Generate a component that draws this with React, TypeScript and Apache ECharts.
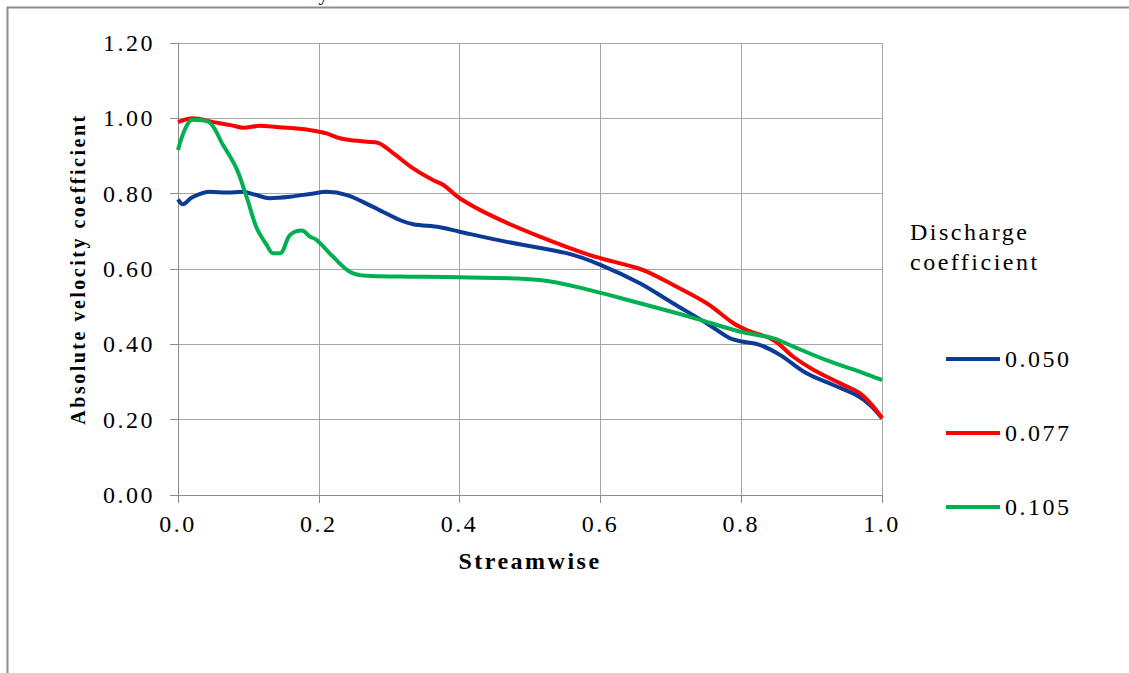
import React, { useEffect, useRef } from "react";
import * as echarts from "echarts";

const seriesNames = ["0.050", "0.077", "0.105"];
const seriesColors = ["#0b3a97", "#ff0000", "#00b050"];

const blueX = [0, 0.007, 0.02, 0.045, 0.07, 0.092, 0.11, 0.13, 0.16, 0.19, 0.211, 0.24, 0.277, 0.315, 0.334, 0.372, 0.4, 0.467, 0.552, 0.6, 0.656, 0.703, 0.751, 0.784, 0.803, 0.827, 0.855, 0.893, 0.931, 0.964, 0.983, 1.0];
const blueY = [0.785, 0.772, 0.79, 0.805, 0.803, 0.805, 0.797, 0.788, 0.792, 0.8, 0.805, 0.796, 0.765, 0.73, 0.719, 0.711, 0.699, 0.672, 0.642, 0.611, 0.562, 0.509, 0.456, 0.416, 0.407, 0.398, 0.372, 0.323, 0.292, 0.265, 0.239, 0.204];

const redX = [0, 0.021, 0.05, 0.075, 0.093, 0.116, 0.14, 0.169, 0.19, 0.211, 0.23, 0.25, 0.268, 0.284, 0.306, 0.334, 0.362, 0.377, 0.4, 0.448, 0.514, 0.585, 0.646, 0.666, 0.703, 0.751, 0.789, 0.808, 0.846, 0.874, 0.903, 0.94, 0.969, 0.988, 1.0];
const redY = [0.99, 1.0, 0.99, 0.982, 0.975, 0.98, 0.977, 0.973, 0.968, 0.96, 0.947, 0.941, 0.938, 0.935, 0.907, 0.867, 0.836, 0.823, 0.788, 0.739, 0.686, 0.637, 0.606, 0.593, 0.558, 0.509, 0.456, 0.438, 0.411, 0.367, 0.332, 0.297, 0.27, 0.234, 0.204];

const greenX = [0, 0.021, 0.043, 0.064, 0.083, 0.098, 0.112, 0.126, 0.135, 0.145, 0.159, 0.176, 0.1875, 0.197, 0.22, 0.244, 0.268, 0.315, 0.4, 0.514, 0.585, 0.656, 0.727, 0.798, 0.846, 0.874, 0.921, 0.969, 1.0];
const greenY = [0.916, 0.996, 0.991, 0.929, 0.867, 0.788, 0.708, 0.664, 0.642, 0.642, 0.69, 0.702, 0.686, 0.677, 0.633, 0.593, 0.582, 0.58, 0.578, 0.571, 0.544, 0.509, 0.473, 0.434, 0.416, 0.394, 0.358, 0.327, 0.305];

const seriesX = [blueX, redX, greenX];
const seriesY = [blueY, redY, greenY];

const xAxisTitle = "Streamwise";
const yAxisTitle = "Absolute velocity coefficient";
const legendTitle = "Discharge\ncoefficient";
const topCaption = "Variation of absolute velocity";

const FONT = "Liberation Serif";

export default function App() {
  const ref = useRef<HTMLDivElement>(null);
  useEffect(() => {
    if (!ref.current) return;
    const chart = echarts.init(ref.current, undefined, { renderer: "svg" });
    const option = {
      animation: false,
      backgroundColor: "#ffffff",
      textStyle: { fontFamily: FONT },
      grid: { left: 178, right: 247, top: 43, bottom: 178, containLabel: false },
      xAxis: {
        type: "value",
        min: 0,
        max: 1,
        interval: 0.2,
        name: xAxisTitle,
        nameLocation: "middle",
        nameGap: 54,
        nameTextStyle: { fontFamily: FONT, fontSize: 24, fontWeight: "bold", color: "#000" },
        axisLine: { show: true, lineStyle: { color: "#8c8c8c", width: 1 } },
        axisTick: { show: true, length: 8, lineStyle: { color: "#8c8c8c" } },
        axisLabel: {
          formatter: (v: number) => v.toFixed(1),
          fontFamily: FONT,
          fontSize: 24,
          color: "#000",
          margin: 17,
        },
        splitLine: { show: true, lineStyle: { color: "#a6a6a6", width: 1 } },
      },
      yAxis: {
        type: "value",
        min: 0,
        max: 1.2,
        interval: 0.2,
        name: yAxisTitle,
        nameLocation: "middle",
        nameGap: 90,
        nameTextStyle: { fontFamily: FONT, fontSize: 20, fontWeight: "bold", color: "#000" },
        axisLine: { show: true, lineStyle: { color: "#8c8c8c", width: 1 } },
        axisTick: { show: true, length: 8, lineStyle: { color: "#8c8c8c" } },
        axisLabel: {
          formatter: (v: number) => v.toFixed(2),
          fontFamily: FONT,
          fontSize: 24,
          color: "#000",
          margin: 23,
        },
        splitLine: { show: true, lineStyle: { color: "#a6a6a6", width: 1 } },
      },
      legend: {
        orient: "vertical",
        left: 946,
        top: 347,
        padding: 0,
        icon: "rect",
        itemWidth: 54,
        itemHeight: 4,
        itemGap: 50,
        textStyle: { fontFamily: FONT, fontSize: 24, color: "#000", lineHeight: 24 },
        data: seriesNames,
      },
      graphic: [
        {
          type: "rect",
          left: 5,
          top: 5,
          shape: { width: 1300, height: 800 },
          style: { fill: "none", stroke: "#8c8c8c", lineWidth: 2 },
          silent: true,
        },
        {
          type: "text",
          left: 910,
          top: 217,
          style: { text: legendTitle, fontFamily: FONT, fontSize: 24, lineHeight: 30, fill: "#000" },
        },
        {
          type: "text",
          left: 20,
          top: -17,
          style: { text: topCaption, fontFamily: FONT, fontSize: 20, fill: "#000" },
        },
      ],
      series: seriesNames.map((name, i) => ({
        name,
        type: "line",
        showSymbol: false,
        symbol: "none",
        smooth: 0.35,
        lineStyle: { color: seriesColors[i], width: 4 },
        itemStyle: { color: seriesColors[i] },
        data: seriesX[i].map((x, k) => [x, seriesY[i][k]]),
      })),
    };
    chart.setOption(option as any);
    return () => chart.dispose();
  }, []);
  return (
    <div
      ref={ref}
      style={{
        position: "fixed",
        left: 0,
        top: 0,
        width: 1129,
        height: 673,
        letterSpacing: "2.5px",
      }}
    />
  );
}
